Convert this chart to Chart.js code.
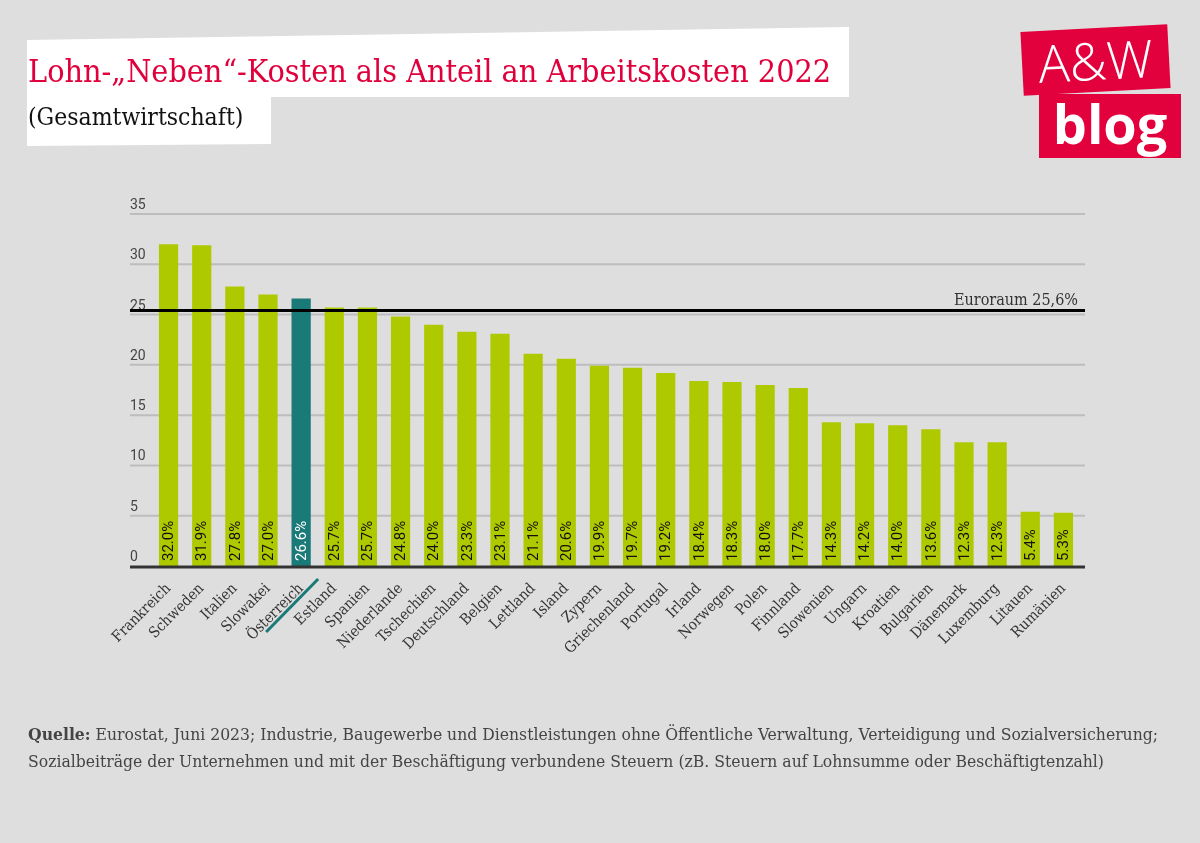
<!DOCTYPE html>
<html>
<head>
<meta charset="utf-8">
<script src="https://cdn.jsdelivr.net/npm/chart.js@4/dist/chart.umd.min.js"></script>
<style>
  html, body { margin: 0; padding: 0; }
  body { width: 1200px; height: 843px; background: #dedede; position: relative; overflow: hidden; }
  #chart { position: absolute; left: 0; top: 0; }
  .titlebox { position: absolute; left: 27px; top: 27px; width: 822px; height: 70px; background: #fff;
    clip-path: polygon(0 13px, 100% 0, 100% 100%, 0 100%); }
  .subbox { position: absolute; left: 27px; top: 95px; width: 244px; height: 51px; background: #fff;
    clip-path: polygon(0 0, 100% 0, 100% 96%, 0 100%); }
  .title { position: absolute; left: 28px; top: 52px; font-family: "DejaVu Serif Condensed", "DejaVu Serif", serif;
    font-size: 32px; color: #e0003c; white-space: nowrap; }
  .sub { position: absolute; left: 28px; top: 102px; font-family: "DejaVu Serif Condensed", "DejaVu Serif", serif;
    font-size: 24.5px; color: #111; white-space: nowrap; }
  .logo1 { position: absolute; left: 1022px; top: 28px; width: 147px; height: 64px; background: #e2003d;
    transform: rotate(-3deg); color: #fff; font-family: "Open Sans", sans-serif; font-weight: 300; font-size: 52px;
    line-height: 64px; text-align: center; }
  .logo2 { position: absolute; left: 1039px; top: 94px; width: 142px; height: 64px; background: #e2003d;
    color: #fff; font-family: "Open Sans", sans-serif; font-weight: 700; font-size: 54px; line-height: 58px; text-align: center; }
  .foot { position: absolute; left: 28px; top: 721px; font-family: "DejaVu Serif Condensed", "DejaVu Serif", serif;
    font-size: 17.4px; color: #444; line-height: 27px; white-space: nowrap; }
</style>
</head>
<body>
<canvas id="chart" width="1200" height="843"></canvas>
<div class="titlebox"></div>
<div class="subbox"></div>
<div class="title">Lohn-„Neben“-Kosten als Anteil an Arbeitskosten 2022</div>
<div class="sub">(Gesamtwirtschaft)</div>
<div class="logo1">A&amp;W</div>
<div class="logo2">blog</div>
<div class="foot"><b>Quelle:</b> Eurostat, Juni 2023; Industrie, Baugewerbe und Dienstleistungen ohne Öffentliche Verwaltung, Verteidigung und Sozialversicherung;<br>Sozialbeiträge der Unternehmen und mit der Beschäftigung verbundene Steuern (zB. Steuern auf Lohnsumme oder Beschäftigtenzahl)</div>
<script>
  const countries = ['Frankreich', 'Schweden', 'Italien', 'Slowakei', 'Österreich', 'Estland', 'Spanien', 'Niederlande',
    'Tschechien', 'Deutschland', 'Belgien', 'Lettland', 'Island', 'Zypern', 'Griechenland', 'Portugal', 'Irland',
    'Norwegen', 'Polen', 'Finnland', 'Slowenien', 'Ungarn', 'Kroatien', 'Bulgarien', 'Dänemark', 'Luxemburg',
    'Litauen', 'Rumänien'];
  const shares = [32.0, 31.9, 27.8, 27.0, 26.6, 25.7, 25.7, 24.8, 24.0, 23.3, 23.1, 21.1, 20.6, 19.9, 19.7, 19.2,
    18.4, 18.3, 18.0, 17.7, 14.3, 14.2, 14.0, 13.6, 12.3, 12.3, 5.4, 5.3];
  const euroArea = 25.6;
  const euroLabel = 'Euroraum 25,6%';
  const highlight = 'Österreich';

  const green = '#afc900';
  const teal = '#1a7a78';
  const lineLeft = 130, lineRight = 1085;

  let barColors = countries.map(c => c === highlight ? teal : green);

  // gridlines + y labels, drawn from the y scale but wider than the chart area
  let gridPlugin = {
    id: 'grid',
    beforeDatasetsDraw(chart) {
      let ctx = chart.ctx;
      let y = chart.scales.y;
      ctx.save();
      y.ticks.forEach(t => {
        let py = y.getPixelForValue(t.value);
        if (t.value > 0) {
          ctx.strokeStyle = '#bdbdbd';
          ctx.lineWidth = 2;
          ctx.beginPath();
          ctx.moveTo(lineLeft, py);
          ctx.lineTo(lineRight, py);
          ctx.stroke();
        }
        ctx.fillStyle = '#444';
        ctx.font = '14px Roboto';
        ctx.textBaseline = 'alphabetic';
        ctx.textAlign = 'left';
        ctx.fillText(String(t.value), lineLeft, py - 5);
      });
      ctx.restore();
    },
    afterDatasetsDraw(chart) {
      let ctx = chart.ctx;
      let x = chart.scales.x;
      let y = chart.scales.y;
      ctx.save();
      // value labels inside bars
      let meta = chart.getDatasetMeta(0);
      meta.data.forEach((bar, i) => {
        ctx.save();
        ctx.translate(bar.x, y.getPixelForValue(0) - 5);
        ctx.rotate(-Math.PI / 2);
        ctx.font = '15px Roboto';
        ctx.fillStyle = countries[i] === highlight ? '#fff' : '#111';
        ctx.textAlign = 'left';
        ctx.textBaseline = 'middle';
        ctx.fillText(shares[i].toFixed(1) + '%', 0, 1);
        ctx.restore();
      });
      // baseline
      let y0 = y.getPixelForValue(0);
      ctx.strokeStyle = '#333';
      ctx.lineWidth = 3;
      ctx.beginPath();
      ctx.moveTo(lineLeft, y0 + 1);
      ctx.lineTo(lineRight, y0 + 1);
      ctx.stroke();
      // euro area line
      let ye = y.getPixelForValue(euroArea) + 2;
      ctx.strokeStyle = '#000';
      ctx.lineWidth = 3;
      ctx.beginPath();
      ctx.moveTo(lineLeft, ye);
      ctx.lineTo(lineRight, ye);
      ctx.stroke();
      ctx.fillStyle = '#333';
      ctx.font = '16px "DejaVu Serif Condensed", "DejaVu Serif", serif';
      ctx.textAlign = 'right';
      ctx.textBaseline = 'alphabetic';
      ctx.fillText(euroLabel, 1078, ye - 6);
      // underline for highlighted country
      let hx = x.getPixelForValue(countries.indexOf(highlight));
      ctx.strokeStyle = teal;
      ctx.lineWidth = 3;
      ctx.beginPath();
      ctx.moveTo(hx - 35, y0 + 66);
      ctx.lineTo(hx + 17, y0 + 13);
      ctx.stroke();
      ctx.restore();
    }
  };

  new Chart(document.getElementById('chart'), {
    type: 'bar',
    data: {
      labels: countries,
      datasets: [{
        data: shares,
        backgroundColor: barColors,
        barPercentage: 0.58,
        categoryPercentage: 1.0
      }]
    },
    options: {
      responsive: false,
      animation: false,
      layout: { padding: { left: 152, right: 120, top: 214, bottom: 77 } },
      plugins: { legend: { display: false }, tooltip: { enabled: false } },
      scales: {
        x: {
          grid: { display: false },
          border: { display: false },
          afterFit(scale) { scale.height = 200; },
          ticks: {
            autoSkip: false,
            maxRotation: 45,
            minRotation: 45,
            padding: 6,
            color: '#333',
            font: { family: '"DejaVu Serif Condensed", "DejaVu Serif", serif', size: 15 }
          }
        },
        y: {
          display: false,
          min: 0,
          max: 35,
          ticks: { stepSize: 5 }
        }
      }
    },
    plugins: [gridPlugin]
  });
</script>
</body>
</html>
